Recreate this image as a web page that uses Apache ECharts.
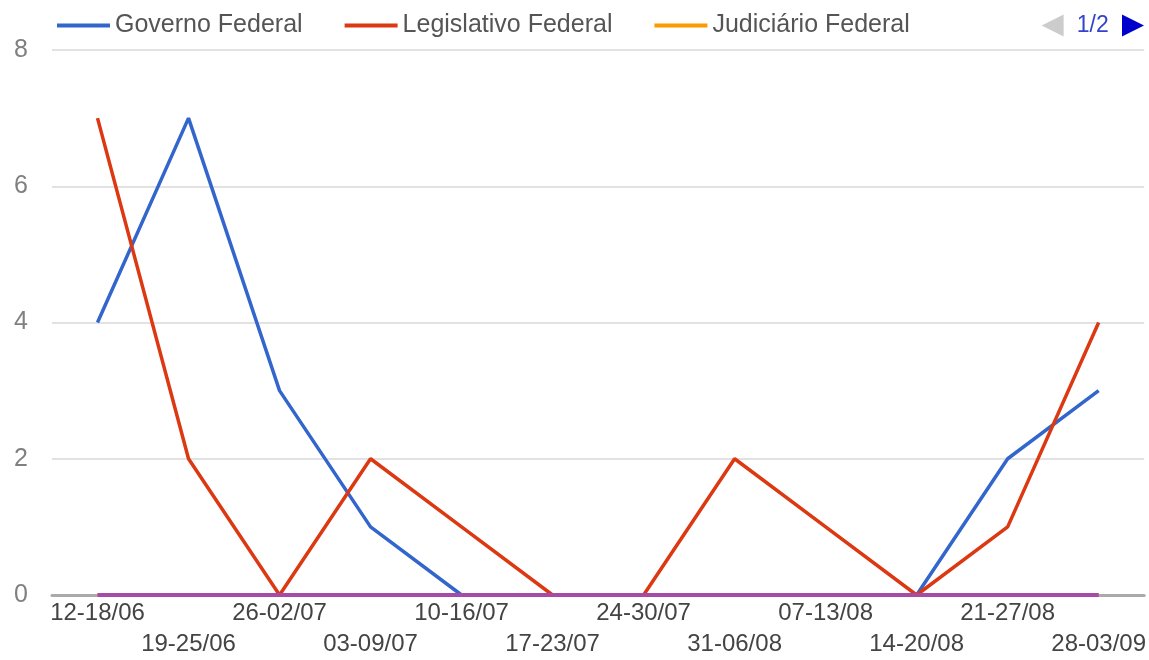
<!DOCTYPE html>
<html>
<head>
<meta charset="utf-8">
<script src="https://cdn.jsdelivr.net/npm/echarts@6/dist/echarts.min.js"></script>
<style>
  html, body { margin: 0; padding: 0; background: #fff; }
  #chart { width: 1149px; height: 660px; }
</style>
</head>
<body>
<div id="chart"></div>
<script>
// semanas
var semanas = ['12-18/06', '19-25/06', '26-02/07', '03-09/07', '10-16/07', '17-23/07',
               '24-30/07', '31-06/08', '07-13/08', '14-20/08', '21-27/08', '28-03/09'];

var governo     = [4, 7, 3, 1, 0, 0, 0, 0, 0, 0, 2, 3];
var legislativo = [7, 2, 0, 2, 1, 0, 0, 2, 1, 0, 1, 4];
var judiciario  = [0, 0, 0, 0, 0, 0, 0, 0, 0, 0, 0, 0];
var ministerio  = [0, 0, 0, 0, 0, 0, 0, 0, 0, 0, 0, 0];

var chart = echarts.init(document.getElementById('chart'));

function linha(nome, dados, cor, largura) {
    return {
        name: nome,
        type: 'line',
        data: dados,
        symbol: 'none',
        lineStyle: { color: cor, width: largura },
        itemStyle: { color: cor }
    };
}

var option = {
    animation: false,
    backgroundColor: '#fff',
    textStyle: { fontFamily: 'Liberation Sans, Arial, sans-serif' },
    legend: {
        type: 'scroll',
        left: 52,
        top: 8,
        width: 1087,
        icon: 'rect',
        itemWidth: 53,
        itemHeight: 4,
        itemGap: 42,
        textStyle: { fontSize: 25, color: '#555' },
        pageButtonGap: 100,
        pageButtonItemGap: 3,
        pageIcons: {
            horizontal: ['path://M0,10L20,0L20,20Z', 'path://M20,10L0,0L0,20Z']
        },
        pageIconColor: '#0000cc',
        pageIconInactiveColor: '#cccccc',
        pageIconSize: [23, 22],
        pageTextStyle: { color: '#3344cc', fontSize: 23 },
        data: ['Governo Federal', 'Legislativo Federal', 'Judiciário Federal', 'Ministério Público']
    },
    grid: { left: 52, right: 4, top: 50, bottom: 63 },
    xAxis: {
        type: 'category',
        data: semanas,
        boundaryGap: true,
        axisTick: { show: false },
        axisLine: { lineStyle: { color: '#aaaaaa', width: 3 } },
        axisLabel: {
            interval: 0,
            margin: 3,
            fontSize: 24,
            lineHeight: 31,
            color: '#444',
            formatter: function (v, i) { return i % 2 ? '\n' + v : v; }
        }
    },
    yAxis: {
        type: 'value',
        min: 0,
        max: 8,
        interval: 2,
        axisLine: { show: false },
        axisTick: { show: false },
        axisLabel: { fontSize: 25, color: '#808080', margin: 24 },
        splitLine: { lineStyle: { color: '#e2e2e2', width: 2 } }
    },
    series: [
        linha('Governo Federal', governo, '#3366cc', 3.5),
        linha('Legislativo Federal', legislativo, '#dc3912', 3.5),
        linha('Judiciário Federal', judiciario, '#ff9900', 4),
        linha('Ministério Público', ministerio, '#a64ca6', 4)
    ]
};
chart.setOption(option);
</script>
</body>
</html>
